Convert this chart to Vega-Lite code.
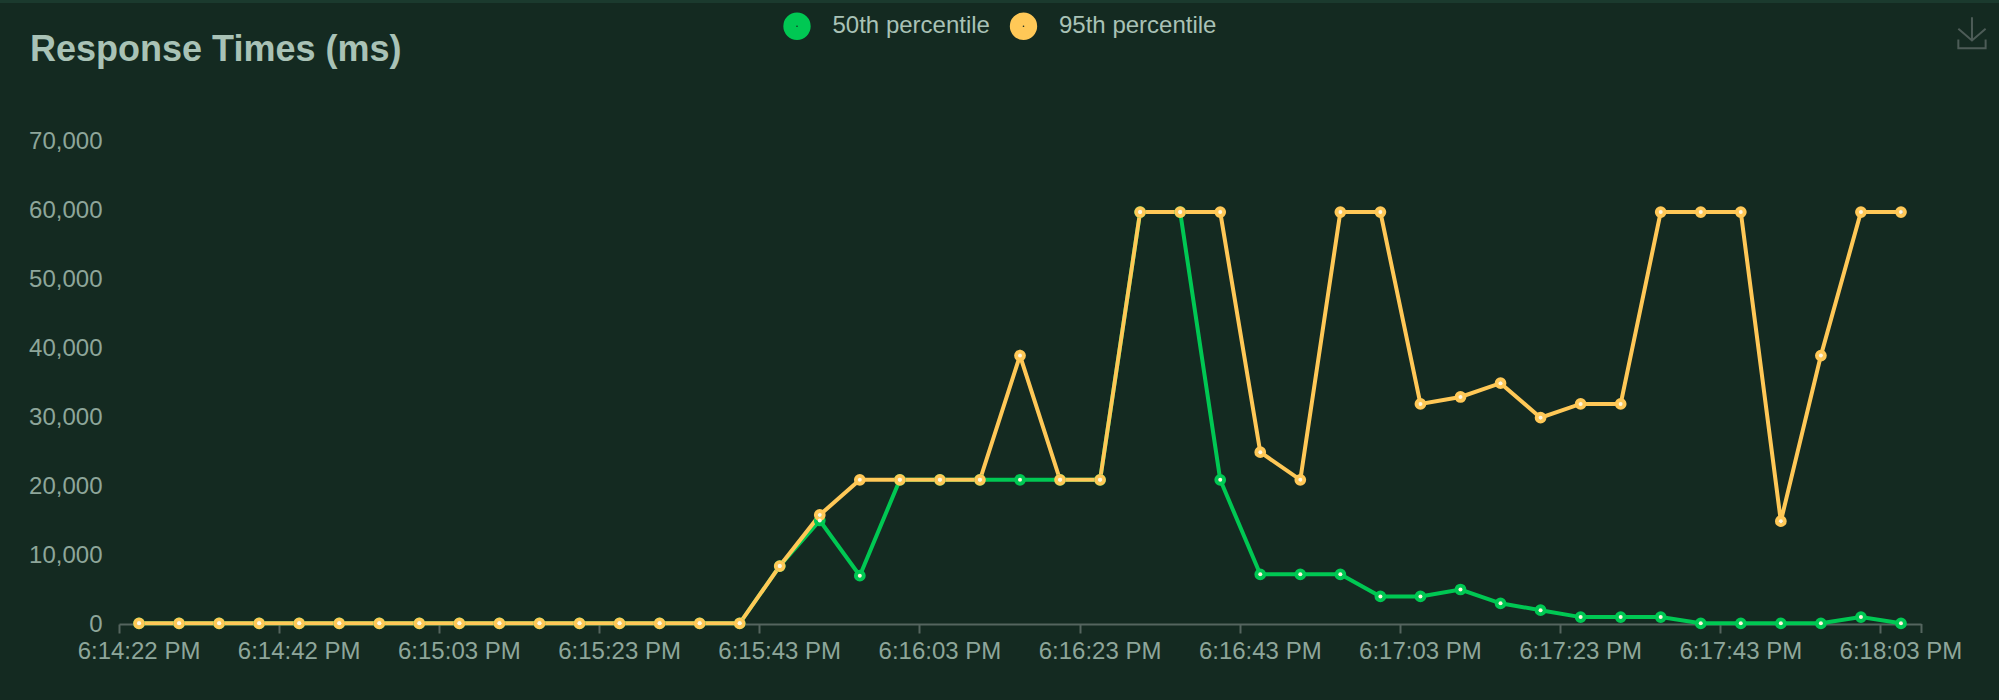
{"$schema":"https://vega.github.io/schema/vega-lite/v6.json","width":1802,"height":483,"autosize":{"type":"none"},"padding":{"left":119,"top":141,"right":78,"bottom":76},"background":"#142a21","title":{"text":"Response Times (ms)","anchor":"start","frame":"group","dx":-89,"offset":-97,"baseline":"alphabetic","fontSize":36,"fontWeight":"bold","font":"Liberation Sans","color":"#a9c2b6"},"config":{"view":{"stroke":null},"font":"Liberation Sans"},"datasets":{"series":[{"k":"6:14:22 PM","s":"50th percentile","v":100},{"k":"6:14:27 PM","s":"50th percentile","v":100},{"k":"6:14:32 PM","s":"50th percentile","v":100},{"k":"6:14:37 PM","s":"50th percentile","v":100},{"k":"6:14:42 PM","s":"50th percentile","v":100},{"k":"6:14:48 PM","s":"50th percentile","v":100},{"k":"6:14:53 PM","s":"50th percentile","v":100},{"k":"6:14:58 PM","s":"50th percentile","v":100},{"k":"6:15:03 PM","s":"50th percentile","v":100},{"k":"6:15:08 PM","s":"50th percentile","v":100},{"k":"6:15:13 PM","s":"50th percentile","v":100},{"k":"6:15:18 PM","s":"50th percentile","v":100},{"k":"6:15:23 PM","s":"50th percentile","v":100},{"k":"6:15:28 PM","s":"50th percentile","v":100},{"k":"6:15:33 PM","s":"50th percentile","v":100},{"k":"6:15:38 PM","s":"50th percentile","v":100},{"k":"6:15:43 PM","s":"50th percentile","v":8400},{"k":"6:15:48 PM","s":"50th percentile","v":15000},{"k":"6:15:53 PM","s":"50th percentile","v":7000},{"k":"6:15:58 PM","s":"50th percentile","v":20900},{"k":"6:16:03 PM","s":"50th percentile","v":20900},{"k":"6:16:08 PM","s":"50th percentile","v":20900},{"k":"6:16:13 PM","s":"50th percentile","v":20900},{"k":"6:16:18 PM","s":"50th percentile","v":20900},{"k":"6:16:23 PM","s":"50th percentile","v":20900},{"k":"6:16:28 PM","s":"50th percentile","v":59700},{"k":"6:16:33 PM","s":"50th percentile","v":59700},{"k":"6:16:38 PM","s":"50th percentile","v":20900},{"k":"6:16:43 PM","s":"50th percentile","v":7200},{"k":"6:16:48 PM","s":"50th percentile","v":7200},{"k":"6:16:53 PM","s":"50th percentile","v":7200},{"k":"6:16:58 PM","s":"50th percentile","v":4000},{"k":"6:17:03 PM","s":"50th percentile","v":4000},{"k":"6:17:08 PM","s":"50th percentile","v":5000},{"k":"6:17:13 PM","s":"50th percentile","v":3000},{"k":"6:17:18 PM","s":"50th percentile","v":2000},{"k":"6:17:23 PM","s":"50th percentile","v":1000},{"k":"6:17:28 PM","s":"50th percentile","v":1000},{"k":"6:17:33 PM","s":"50th percentile","v":1000},{"k":"6:17:38 PM","s":"50th percentile","v":100},{"k":"6:17:43 PM","s":"50th percentile","v":100},{"k":"6:17:48 PM","s":"50th percentile","v":100},{"k":"6:17:53 PM","s":"50th percentile","v":100},{"k":"6:17:58 PM","s":"50th percentile","v":1000},{"k":"6:18:03 PM","s":"50th percentile","v":100},{"k":"6:14:22 PM","s":"95th percentile","v":100},{"k":"6:14:27 PM","s":"95th percentile","v":100},{"k":"6:14:32 PM","s":"95th percentile","v":100},{"k":"6:14:37 PM","s":"95th percentile","v":100},{"k":"6:14:42 PM","s":"95th percentile","v":100},{"k":"6:14:48 PM","s":"95th percentile","v":100},{"k":"6:14:53 PM","s":"95th percentile","v":100},{"k":"6:14:58 PM","s":"95th percentile","v":100},{"k":"6:15:03 PM","s":"95th percentile","v":100},{"k":"6:15:08 PM","s":"95th percentile","v":100},{"k":"6:15:13 PM","s":"95th percentile","v":100},{"k":"6:15:18 PM","s":"95th percentile","v":100},{"k":"6:15:23 PM","s":"95th percentile","v":100},{"k":"6:15:28 PM","s":"95th percentile","v":100},{"k":"6:15:33 PM","s":"95th percentile","v":100},{"k":"6:15:38 PM","s":"95th percentile","v":100},{"k":"6:15:43 PM","s":"95th percentile","v":8400},{"k":"6:15:48 PM","s":"95th percentile","v":15800},{"k":"6:15:53 PM","s":"95th percentile","v":20900},{"k":"6:15:58 PM","s":"95th percentile","v":20900},{"k":"6:16:03 PM","s":"95th percentile","v":20900},{"k":"6:16:08 PM","s":"95th percentile","v":20900},{"k":"6:16:13 PM","s":"95th percentile","v":38900},{"k":"6:16:18 PM","s":"95th percentile","v":20900},{"k":"6:16:23 PM","s":"95th percentile","v":20900},{"k":"6:16:28 PM","s":"95th percentile","v":59700},{"k":"6:16:33 PM","s":"95th percentile","v":59700},{"k":"6:16:38 PM","s":"95th percentile","v":59700},{"k":"6:16:43 PM","s":"95th percentile","v":24900},{"k":"6:16:48 PM","s":"95th percentile","v":20900},{"k":"6:16:53 PM","s":"95th percentile","v":59700},{"k":"6:16:58 PM","s":"95th percentile","v":59700},{"k":"6:17:03 PM","s":"95th percentile","v":31900},{"k":"6:17:08 PM","s":"95th percentile","v":32900},{"k":"6:17:13 PM","s":"95th percentile","v":34900},{"k":"6:17:18 PM","s":"95th percentile","v":29900},{"k":"6:17:23 PM","s":"95th percentile","v":31900},{"k":"6:17:28 PM","s":"95th percentile","v":31900},{"k":"6:17:33 PM","s":"95th percentile","v":59700},{"k":"6:17:38 PM","s":"95th percentile","v":59700},{"k":"6:17:43 PM","s":"95th percentile","v":59700},{"k":"6:17:48 PM","s":"95th percentile","v":14900},{"k":"6:17:53 PM","s":"95th percentile","v":38900},{"k":"6:17:58 PM","s":"95th percentile","v":59700},{"k":"6:18:03 PM","s":"95th percentile","v":59700}]},"data":{"name":"series"},"layer":[{"data":{"values":[{"a":"strip"}]},"mark":{"type":"rule","strokeWidth":3,"color":"#1b3a2e","xOffset":-140,"x2Offset":99},"encoding":{"x":{"datum":"6:14:22 PM","type":"nominal"},"x2":{"datum":"6:18:03 PM"},"y":{"datum":90217,"type":"quantitative"}}},{"data":{"values":[{"a":"icon"}]},"mark":{"type":"point","filled":false,"strokeWidth":2,"color":"#4d5c57","size":961,"xOffset":71,"opacity":1,"shape":"M0,-1L0,0.5M-0.88,-0.25L0,0.5L0.88,-0.25M-0.88,0.44L-0.88,1L0.88,1L0.88,0.44"},"encoding":{"x":{"datum":"6:18:03 PM","type":"nominal"},"y":{"datum":85700,"type":"quantitative"}}},{"data":{"values":[{"a":"axis end tick"}]},"mark":{"type":"rule","strokeWidth":2,"color":"#55655f","xOffset":20.5},"encoding":{"x":{"datum":"6:18:03 PM","type":"nominal"},"y":{"datum":0,"type":"quantitative"},"y2":{"datum":-1304}}},{"mark":{"type":"line","strokeWidth":4,"interpolate":"linear"},"encoding":{"x":{"field":"k","type":"nominal"},"y":{"field":"v","type":"quantitative"},"stroke":{"field":"s","type":"nominal"},"order":{"field":"s"}}},{"mark":{"type":"point","filled":false,"opacity":1,"size":60,"strokeWidth":4},"encoding":{"x":{"field":"k","type":"nominal"},"y":{"field":"v","type":"quantitative"},"stroke":{"field":"s","type":"nominal"}}},{"mark":{"type":"point","filled":true,"color":"#fff6e0","opacity":1,"size":16},"encoding":{"x":{"field":"k","type":"nominal"},"y":{"field":"v","type":"quantitative"}}}],"encoding":{"x":{"scale":{"type":"band","paddingInner":0,"paddingOuter":0,"domain":["6:14:22 PM","6:14:27 PM","6:14:32 PM","6:14:37 PM","6:14:42 PM","6:14:48 PM","6:14:53 PM","6:14:58 PM","6:15:03 PM","6:15:08 PM","6:15:13 PM","6:15:18 PM","6:15:23 PM","6:15:28 PM","6:15:33 PM","6:15:38 PM","6:15:43 PM","6:15:48 PM","6:15:53 PM","6:15:58 PM","6:16:03 PM","6:16:08 PM","6:16:13 PM","6:16:18 PM","6:16:23 PM","6:16:28 PM","6:16:33 PM","6:16:38 PM","6:16:43 PM","6:16:48 PM","6:16:53 PM","6:16:58 PM","6:17:03 PM","6:17:08 PM","6:17:13 PM","6:17:18 PM","6:17:23 PM","6:17:28 PM","6:17:33 PM","6:17:38 PM","6:17:43 PM","6:17:48 PM","6:17:53 PM","6:17:58 PM","6:18:03 PM"]},"axis":{"title":null,"values":["6:14:22 PM","6:14:42 PM","6:15:03 PM","6:15:23 PM","6:15:43 PM","6:16:03 PM","6:16:23 PM","6:16:43 PM","6:17:03 PM","6:17:23 PM","6:17:43 PM","6:18:03 PM"],"bandPosition":0,"tickExtra":false,"labelAngle":0,"labelAlign":"center","labelBaseline":"top","labelOverlap":false,"labelBound":false,"labelFlush":false,"labelFontSize":24,"labelColor":"#8ea69a","labelPadding":6,"tickSize":9,"tickWidth":2,"tickColor":"#55655f","domainColor":"#55655f","domainWidth":2,"grid":false}},"y":{"scale":{"domain":[0,70000],"nice":false,"zero":true},"axis":{"title":null,"values":[0,10000,20000,30000,40000,50000,60000,70000],"format":",.0f","labelFontSize":24,"labelColor":"#8ea69a","labelPadding":17,"ticks":false,"domain":false,"grid":false,"labelBound":false,"labelFlush":false,"labelOverlap":false}},"stroke":{"scale":{"domain":["50th percentile","95th percentile"],"range":["#00c853","#ffc857"]},"legend":{"title":null,"orient":"none","legendX":664,"legendY":-129,"direction":"horizontal","columns":2,"columnPadding":-2.5,"labelFontSize":24,"labelColor":"#a9c2b6","labelOffset":21.5,"symbolType":"circle","symbolSize":165,"symbolStrokeWidth":14.5,"symbolFillColor":"#7fc855","symbolOpacity":1}}}}
